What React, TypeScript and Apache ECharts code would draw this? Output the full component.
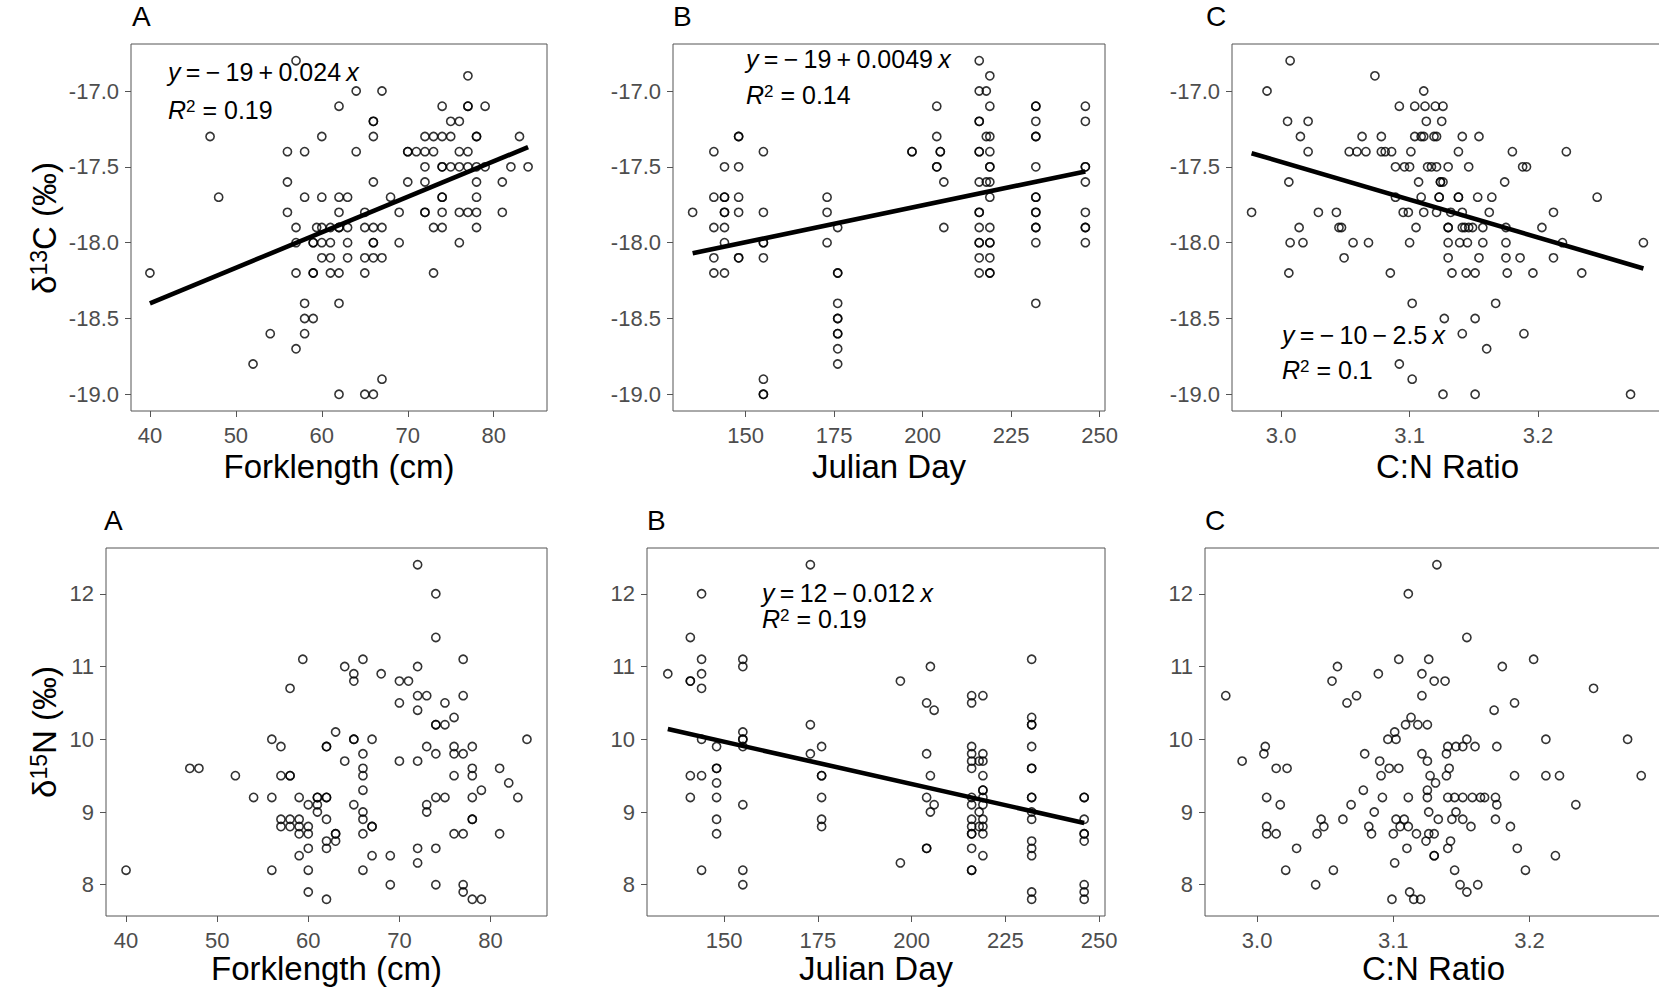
import React, { useEffect, useRef } from 'react';
import * as echarts from 'echarts';

// ---------- data ----------
const forkC13: number[][] = [
  [57,-16.8],[77,-16.9],[64,-17.0],[67,-17.0],
  [62,-17.1],[74,-17.1],[77,-17.1],[77,-17.1],[79,-17.1],
  [66,-17.2],[66,-17.2],[75,-17.2],[76,-17.2],
  [47,-17.3],[60,-17.3],[66,-17.3],[72,-17.3],[73,-17.3],[74,-17.3],[75,-17.3],[78,-17.3],[78,-17.3],[83,-17.3],
  [56,-17.4],[58,-17.4],[64,-17.4],[70,-17.4],[70,-17.4],[71,-17.4],[72,-17.4],[73,-17.4],[76,-17.4],[77,-17.4],
  [72,-17.5],[74,-17.5],[74,-17.5],[75,-17.5],[76,-17.5],[77,-17.5],[78,-17.5],[79,-17.5],[82,-17.5],[84,-17.5],
  [56,-17.6],[66,-17.6],[70,-17.6],[72,-17.6],[78,-17.6],[81,-17.6],
  [48,-17.7],[58,-17.7],[60,-17.7],[62,-17.7],[63,-17.7],[68,-17.7],[74,-17.7],[74,-17.7],[78,-17.7],
  [56,-17.8],[62,-17.8],[65,-17.8],[69,-17.8],[72,-17.8],[72,-17.8],[74,-17.8],[76,-17.8],[77,-17.8],[78,-17.8],[81,-17.8],
  [57,-17.9],[59.4,-17.9],[60,-17.9],[61,-17.9],[62,-17.9],[62,-17.9],[63,-17.9],[65,-17.9],[66,-17.9],[67,-17.9],[73,-17.9],[74,-17.9],[78,-17.9],
  [57,-18.0],[59,-18.0],[59,-18.0],[60,-18.0],[61,-18.0],[63,-18.0],[66,-18.0],[66,-18.0],[69,-18.0],[76,-18.0],
  [60,-18.1],[61,-18.1],[63,-18.1],[65,-18.1],[66,-18.1],[67,-18.1],
  [40,-18.2],[57,-18.2],[59,-18.2],[59,-18.2],[61,-18.2],[62,-18.2],[65,-18.2],[73,-18.2],
  [58,-18.4],[62,-18.4],[58,-18.5],[59,-18.5],[54,-18.6],[58,-18.6],[57,-18.7],[52,-18.8],[67,-18.9],
  [62,-19.0],[65,-19.0],[66,-19.0],
];

const julianC13: number[][] = [
  [135,-17.8],
  [141,-17.4],[141,-17.7],[141,-17.9],[141,-18.1],[141,-18.2],
  [144,-17.5],[144,-17.7],[144,-17.7],[144,-17.8],[144,-17.8],[144,-17.9],[144,-18.0],[144,-18.2],
  [148,-17.3],[148,-17.3],[148,-17.5],[148,-17.7],[148,-17.8],[148,-18.1],[148,-18.1],
  [155,-17.4],[155,-17.8],[155,-18.0],[155,-18.0],[155,-18.1],[155,-18.9],[155,-19.0],[155,-19.0],
  [173,-17.7],[173,-17.8],[173,-18.0],
  [176,-17.9],[176,-18.2],[176,-18.2],[176,-18.4],[176,-18.5],[176,-18.5],[176,-18.6],[176,-18.6],[176,-18.7],[176,-18.8],
  [197,-17.4],[197,-17.4],
  [204,-17.1],[204,-17.3],[204,-17.5],[204,-17.5],
  [205,-17.4],[205,-17.4],
  [206,-17.6],[206,-17.9],
  [216,-16.8],[216,-17.0],[216,-17.2],[216,-17.2],[216,-17.4],[216,-17.4],[216,-17.6],[216,-17.8],[216,-17.8],[216,-17.9],[216,-18.0],[216,-18.0],[216,-18.1],[216,-18.2],
  [218,-17.0],[218,-17.3],[218,-17.6],
  [219,-16.9],[219,-17.1],[219,-17.3],[219,-17.4],[219,-17.5],[219,-17.5],[219,-17.6],[219,-17.7],[219,-17.9],[219,-18.0],[219,-18.0],[219,-18.1],[219,-18.2],[219,-18.2],
  [232,-17.1],[232,-17.1],[232,-17.2],[232,-17.3],[232,-17.3],[232,-17.5],[232,-17.7],[232,-17.7],[232,-17.8],[232,-17.8],[232,-17.9],[232,-17.9],[232,-18.0],[232,-18.4],
  [246,-17.1],[246,-17.2],[246,-17.5],[246,-17.5],[246,-17.6],[246,-17.8],[246,-17.9],[246,-17.9],[246,-18.0],
];

const cnC13: number[][] = [
  [3.007,-16.8],[3.073,-16.9],[2.989,-17.0],[3.111,-17.0],
  [3.092,-17.1],[3.104,-17.1],[3.112,-17.1],[3.120,-17.1],[3.126,-17.1],
  [3.005,-17.2],[3.021,-17.2],[3.113,-17.2],[3.125,-17.2],
  [3.015,-17.3],[3.063,-17.3],[3.078,-17.3],[3.104,-17.3],[3.109,-17.3],[3.111,-17.3],[3.119,-17.3],[3.121,-17.3],[3.141,-17.3],[3.154,-17.3],
  [3.021,-17.4],[3.053,-17.4],[3.059,-17.4],[3.066,-17.4],[3.078,-17.4],[3.081,-17.4],[3.086,-17.4],[3.101,-17.4],[3.138,-17.4],[3.180,-17.4],[3.222,-17.4],
  [3.089,-17.5],[3.096,-17.5],[3.100,-17.5],[3.114,-17.5],[3.117,-17.5],[3.121,-17.5],[3.130,-17.5],[3.146,-17.5],[3.188,-17.5],[3.191,-17.5],
  [3.006,-17.6],[3.107,-17.6],[3.124,-17.6],[3.124,-17.6],[3.126,-17.6],[3.174,-17.6],
  [3.089,-17.7],[3.109,-17.7],[3.123,-17.7],[3.123,-17.7],[3.138,-17.7],[3.138,-17.7],[3.153,-17.7],[3.164,-17.7],[3.246,-17.7],
  [2.977,-17.8],[3.029,-17.8],[3.043,-17.8],[3.095,-17.8],[3.099,-17.8],[3.111,-17.8],[3.121,-17.8],[3.132,-17.8],[3.141,-17.8],[3.162,-17.8],[3.212,-17.8],
  [3.014,-17.9],[3.045,-17.9],[3.047,-17.9],[3.105,-17.9],[3.130,-17.9],[3.130,-17.9],[3.141,-17.9],[3.143,-17.9],[3.146,-17.9],[3.149,-17.9],[3.157,-17.9],[3.175,-17.9],[3.203,-17.9],
  [3.007,-18.0],[3.017,-18.0],[3.056,-18.0],[3.068,-18.0],[3.100,-18.0],[3.130,-18.0],[3.139,-18.0],[3.145,-18.0],[3.157,-18.0],[3.175,-18.0],[3.219,-18.0],[3.282,-18.0],
  [3.049,-18.1],[3.130,-18.1],[3.154,-18.1],[3.175,-18.1],[3.186,-18.1],[3.212,-18.1],
  [3.006,-18.2],[3.085,-18.2],[3.133,-18.2],[3.144,-18.2],[3.151,-18.2],[3.176,-18.2],[3.196,-18.2],[3.234,-18.2],
  [3.102,-18.4],[3.167,-18.4],[3.127,-18.5],[3.151,-18.5],[3.141,-18.6],[3.189,-18.6],[3.160,-18.7],[3.092,-18.8],[3.102,-18.9],
  [3.126,-19.0],[3.151,-19.0],[3.272,-19.0],
];

const forkN15: number[][] = [
  [72,12.4],[74,12.0],[74,11.4],[59.4,11.1],[66,11.1],[77,11.1],[64,11.0],[72,11.0],[65,10.9],[68,10.9],
  [65,10.8],[70,10.8],[71,10.8],[58,10.7],[72,10.6],[73,10.6],[77,10.6],[70,10.5],[75,10.5],[72,10.4],
  [76,10.3],[74,10.2],[74,10.2],[75,10.2],[63,10.1],[56,10.0],[65,10.0],[65,10.0],[67,10.0],[84,10.0],
  [57,9.9],[62,9.9],[62,9.9],[73,9.9],[76,9.9],[78,9.9],[66,9.8],[74,9.8],[76,9.8],[77,9.8],
  [64,9.7],[70,9.7],[72,9.7],[47,9.6],[48,9.6],[66,9.6],[78,9.6],[81,9.6],
  [52,9.5],[57,9.5],[58,9.5],[58,9.5],[66,9.5],[76,9.5],[78,9.5],[82,9.4],[66,9.3],[79,9.3],
  [54,9.2],[56,9.2],[59,9.2],[61,9.2],[61,9.2],[62,9.2],[62,9.2],[74,9.2],[75,9.2],[78,9.2],[83,9.2],
  [60,9.1],[61,9.1],[65,9.1],[73,9.1],[61,9.0],[66,9.0],[73,9.0],
  [57,8.9],[58,8.9],[59,8.9],[62,8.9],[66,8.9],[78,8.9],[78,8.9],
  [57,8.8],[58,8.8],[59,8.8],[60,8.8],[67,8.8],[67,8.8],
  [59,8.7],[60,8.7],[63,8.7],[63,8.7],[66,8.7],[76,8.7],[77,8.7],[81,8.7],
  [62,8.6],[63,8.6],[60,8.5],[62,8.5],[72,8.5],[74,8.5],[59,8.4],[67,8.4],[69,8.4],[72,8.3],
  [40,8.2],[56,8.2],[60,8.2],[66,8.2],[69,8.0],[74,8.0],[77,8.0],[60,7.9],[77,7.9],[62,7.8],[78,7.8],[79,7.8],
];

const julianN15: number[][] = [
  [135,10.9],
  [141,11.4],[141,10.8],[141,10.8],[141,9.5],[141,9.2],
  [144,12.0],[144,11.1],[144,10.9],[144,10.7],[144,10.0],[144,9.5],[144,8.2],
  [148,9.9],[148,9.6],[148,9.6],[148,9.4],[148,9.2],[148,8.9],[148,8.7],
  [155,11.1],[155,11.0],[155,10.1],[155,10.0],[155,10.0],[155,9.9],[155,9.1],[155,8.2],[155,8.0],
  [173,12.4],[173,10.2],[173,9.8],
  [176,9.9],[176,9.5],[176,9.5],[176,9.2],[176,8.9],[176,8.8],
  [197,10.8],[197,8.3],
  [204,10.5],[204,9.8],[204,9.2],[204,8.5],[204,8.5],
  [205,11.0],[205,9.5],[205,9.0],
  [206,10.4],[206,9.1],
  [216,10.6],[216,10.5],[216,9.9],[216,9.8],[216,9.7],[216,9.6],[216,9.2],[216,9.1],[216,8.9],[216,8.8],[216,8.7],[216,8.7],[216,8.5],[216,8.2],[216,8.2],
  [218,9.7],[218,9.0],[218,8.8],
  [219,10.6],[219,9.8],[219,9.7],[219,9.5],[219,9.3],[219,9.3],[219,9.2],[219,9.1],[219,8.9],[219,8.8],[219,8.7],[219,8.4],
  [232,11.1],[232,10.3],[232,10.2],[232,10.2],[232,9.9],[232,9.6],[232,9.6],[232,9.2],[232,9.2],[232,9.0],[232,8.9],[232,8.6],[232,8.5],[232,8.4],[232,7.9],[232,7.8],
  [246,9.2],[246,9.2],[246,8.9],[246,8.7],[246,8.7],[246,8.6],[246,8.0],[246,7.9],[246,7.8],
];

const cnN15: number[][] = [
  [3.132,12.4],[3.111,12.0],[3.154,11.4],[3.104,11.1],[3.126,11.1],[3.203,11.1],[3.059,11.0],[3.180,11.0],
  [3.089,10.9],[3.121,10.9],[3.055,10.8],[3.130,10.8],[3.138,10.8],[3.247,10.7],[2.977,10.6],[3.073,10.6],
  [3.121,10.6],[3.066,10.5],[3.189,10.5],[3.174,10.4],[3.113,10.3],[3.109,10.2],[3.118,10.2],[3.125,10.2],
  [3.101,10.1],[3.096,10.0],[3.102,10.0],[3.154,10.0],[3.212,10.0],[3.272,10.0],
  [3.006,9.9],[3.140,9.9],[3.146,9.9],[3.151,9.9],[3.160,9.9],[3.176,9.9],
  [3.005,9.8],[3.079,9.8],[3.121,9.8],[3.139,9.8],[2.989,9.7],[3.090,9.7],[3.125,9.7],
  [3.014,9.6],[3.022,9.6],[3.097,9.6],[3.104,9.6],[3.141,9.6],
  [3.091,9.5],[3.127,9.5],[3.139,9.5],[3.189,9.5],[3.212,9.5],[3.222,9.5],[3.282,9.5],
  [3.131,9.4],[3.078,9.3],[3.125,9.3],
  [3.007,9.2],[3.092,9.2],[3.111,9.2],[3.125,9.2],[3.140,9.2],[3.145,9.2],[3.151,9.2],[3.158,9.2],[3.164,9.2],[3.167,9.2],[3.175,9.2],
  [3.017,9.1],[3.069,9.1],[3.176,9.1],[3.234,9.1],[3.086,9.0],[3.126,9.0],[3.146,9.0],
  [3.047,8.9],[3.063,8.9],[3.102,8.9],[3.108,8.9],[3.133,8.9],[3.143,8.9],[3.151,8.9],[3.175,8.9],
  [3.007,8.8],[3.049,8.8],[3.082,8.8],[3.105,8.8],[3.111,8.8],[3.157,8.8],[3.186,8.8],
  [3.007,8.7],[3.014,8.7],[3.044,8.7],[3.084,8.7],[3.100,8.7],[3.117,8.7],[3.126,8.7],[3.130,8.7],
  [3.124,8.6],[3.142,8.6],[3.029,8.5],[3.110,8.5],[3.140,8.5],[3.191,8.5],
  [3.130,8.4],[3.130,8.4],[3.219,8.4],[3.101,8.3],[3.021,8.2],[3.056,8.2],[3.145,8.2],[3.197,8.2],
  [3.043,8.0],[3.149,8.0],[3.162,8.0],[3.112,7.9],[3.154,7.9],[3.099,7.8],[3.115,7.8],[3.120,7.8],
];

// fitted regression lines (end points)
const fitForkC13: number[][] = [[40, -18.40], [84, -17.37]];
const fitJulianC13: number[][] = [[135, -18.07], [246, -17.53]];
const fitCnC13: number[][] = [[2.977, -17.41], [3.282, -18.17]];
const fitJulianN15: number[][] = [[135, 10.14], [246, 8.85]];

// tick values
const forkTicks = [40, 50, 60, 70, 80];
const julianTicks = [150, 175, 200, 225, 250];
const cnTicks = [3.0, 3.1, 3.2];
const c13Ticks = [-19.0, -18.5, -18.0, -17.5, -17.0];
const n15Ticks = [8, 9, 10, 11, 12];

// texts
const panelLetters = ['A', 'B', 'C', 'A', 'B', 'C'];
const xTitles = ['Forklength (cm)', 'Julian Day', 'C:N Ratio'];
const eqForkC13 = ['= − 19 + 0.024', '0.19'];
const eqJulianC13 = ['= − 19 + 0.0049', '0.14'];
const eqCnC13 = ['= − 10 − 2.5', '0.1'];
const eqJulianN15 = ['= 12 − 0.012', '0.19'];

// ---------- layout ----------
const FONT = "'Liberation Sans', Arial, Helvetica, sans-serif";
const GRIDS = [
  { left: 131, top: 44, width: 416, height: 367 },
  { left: 673, top: 44, width: 432, height: 367 },
  { left: 1232, top: 44, width: 431, height: 367 },
  { left: 106, top: 548, width: 441, height: 368 },
  { left: 647, top: 548, width: 458, height: 368 },
  { left: 1205, top: 548, width: 457, height: 368 },
];

function expand(data: number[][], k: number): [number, number] {
  let lo = Infinity, hi = -Infinity;
  for (const d of data) { lo = Math.min(lo, d[k]); hi = Math.max(hi, d[k]); }
  const r = hi - lo;
  return [lo - 0.05 * r, hi + 0.05 * r];
}

function axis(kind: 'x' | 'y', i: number, range: [number, number], ticks: number[], dec: number) {
  return {
    type: 'value',
    gridIndex: i,
    min: range[0],
    max: range[1],
    splitLine: { show: false },
    axisLine: { show: false },
    axisTick: { show: true, length: 6, lineStyle: { color: '#555', width: 1 }, customValues: ticks },
    axisLabel: {
      customValues: ticks,
      formatter: (v: number) => v.toFixed(dec),
      color: '#4d4d4d',
      fontSize: 22,
      fontFamily: FONT,
      margin: kind === 'x' ? 13 : 12,
    },
  };
}

function eqTexts(x: number, y1: number, y2: number, eq: string[]) {
  const base = { fontSize: 25, fontFamily: FONT, fill: '#000' };
  const rich = {
    i: { ...base, fontStyle: 'italic' },
    n: { ...base },
    sp: { fontSize: 19, fontFamily: FONT, fill: '#000' },
    s: { fontSize: 17, fontFamily: FONT, fill: '#000', verticalAlign: 'top' },
  };
  const mid = eq[0].split(' ').map((t) => `{sp| }{n|${t}}`).join('');
  return [
    {
      type: 'text', x, y: y1, silent: true,
      style: { text: `{i|y}${mid}{sp| }{i|x}`, rich, align: 'left', verticalAlign: 'middle' },
    },
    {
      type: 'text', x, y: y2, silent: true,
      style: { text: `{i|R}{s|2}{n| = ${eq[1]}}`, rich, align: 'left', verticalAlign: 'middle' },
    },
  ];
}

export default function App() {
  const ref = useRef<HTMLDivElement>(null);

  useEffect(() => {
    if (!ref.current) return;
    const chart = echarts.init(ref.current, undefined, { renderer: 'svg' });

    const panels = [
      { data: forkC13, xt: forkTicks, xd: 0, yt: c13Ticks, yd: 1, fit: fitForkC13 },
      { data: julianC13, xt: julianTicks, xd: 0, yt: c13Ticks, yd: 1, fit: fitJulianC13 },
      { data: cnC13, xt: cnTicks, xd: 1, yt: c13Ticks, yd: 1, fit: fitCnC13 },
      { data: forkN15, xt: forkTicks, xd: 0, yt: n15Ticks, yd: 0, fit: null },
      { data: julianN15, xt: julianTicks, xd: 0, yt: n15Ticks, yd: 0, fit: fitJulianN15 },
      { data: cnN15, xt: cnTicks, xd: 1, yt: n15Ticks, yd: 0, fit: null },
    ];

    const grid = GRIDS.map((g) => ({
      ...g, show: true, borderColor: '#555', borderWidth: 1, backgroundColor: 'transparent', containLabel: false,
    }));
    const xAxis = panels.map((p, i) => axis('x', i, expand(p.data, 0), p.xt, p.xd));
    const yAxis = panels.map((p, i) => axis('y', i, expand(p.data, 1), p.yt, p.yd));

    const series: any[] = panels.map((p, i) => ({
      type: 'scatter', xAxisIndex: i, yAxisIndex: i, data: p.data, silent: true,
      symbol: 'circle', symbolSize: 8.2,
      itemStyle: { color: 'rgba(0,0,0,0)', borderColor: '#000', borderWidth: 1.6 },
    }));
    panels.forEach((p, i) => {
      if (p.fit) {
        series.push({
          type: 'line', xAxisIndex: i, yAxisIndex: i, data: p.fit, silent: true,
          symbol: 'none', lineStyle: { color: '#000', width: 4.6 }, z: 5,
        });
      }
    });

    const letterPos = [[132, 16], [673, 16], [1206, 16], [104, 520], [647, 520], [1205, 520]];
    const graphic: any[] = [];
    letterPos.forEach((pos, i) => {
      graphic.push({
        type: 'text', x: pos[0], y: pos[1], silent: true,
        style: { text: panelLetters[i], fontSize: 28, fontFamily: FONT, fill: '#000', align: 'left', verticalAlign: 'middle' },
      });
    });
    GRIDS.forEach((g, i) => {
      graphic.push({
        type: 'text', x: g.left + g.width / 2, y: i < 3 ? 466 : 968, silent: true,
        style: { text: xTitles[i % 3], fontSize: 33, fontFamily: FONT, fill: '#000', align: 'center', verticalAlign: 'middle' },
      });
    });
    const yRich = {
      a: { fontSize: 33, fontFamily: FONT, fill: '#000' },
      s: { fontSize: 23, fontFamily: FONT, fill: '#000', verticalAlign: 'top' },
    };
    graphic.push({
      type: 'text', x: 44, y: 228, rotation: Math.PI / 2, silent: true,
      style: { text: '{a|δ}{s|13}{a|C (‰)}', rich: yRich, align: 'center', verticalAlign: 'middle' },
    });
    graphic.push({
      type: 'text', x: 44, y: 732, rotation: Math.PI / 2, silent: true,
      style: { text: '{a|δ}{s|15}{a|N (‰)}', rich: yRich, align: 'center', verticalAlign: 'middle' },
    });
    graphic.push(...eqTexts(168, 72, 110, eqForkC13));
    graphic.push(...eqTexts(746, 59, 95, eqJulianC13));
    graphic.push(...eqTexts(1282, 335, 370, eqCnC13));
    graphic.push(...eqTexts(762, 593, 619, eqJulianN15));

    chart.setOption({
      animation: false,
      backgroundColor: '#fff',
      textStyle: { fontFamily: FONT },
      grid, xAxis, yAxis, series, graphic,
    });

    return () => chart.dispose();
  }, []);

  return (
    <div style={{ position: 'fixed', left: 0, top: 0, width: 1659, height: 987, overflow: 'hidden', background: '#fff' }}>
      <div ref={ref} style={{ width: 1672, height: 987 }} />
    </div>
  );
}
